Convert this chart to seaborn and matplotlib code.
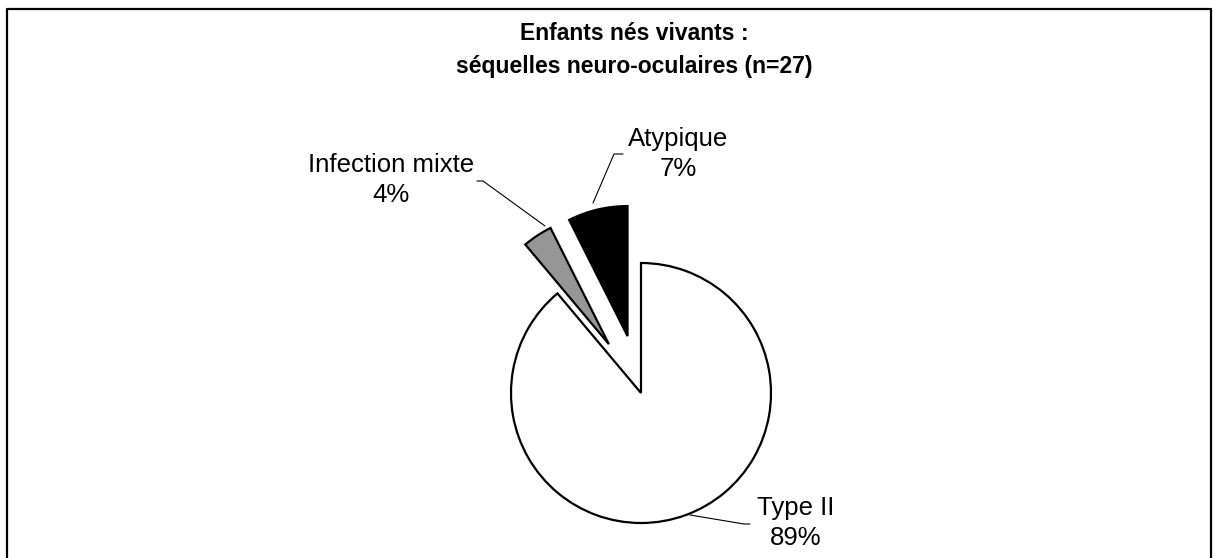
import matplotlib
matplotlib.use("Agg")
import matplotlib.pyplot as plt
import seaborn as sns

# Data
categories = ["Type II", "Infection mixte", "Atypique"]
counts = [24, 1, 2]
slice_colors = ["#FFFFFF", "#969696", "#000000"]
title_text = "Enfants nés vivants :\nséquelles neuro-oculaires (n=27)"

sns.set_theme(style="white")
plt.rcParams["font.family"] = ["Liberation Sans", "DejaVu Sans"]
plt.rcParams["text.color"] = "black"

W, H = 1213, 558
fig = plt.figure(figsize=(W / 100, H / 100), dpi=100)
ax = fig.add_axes([0, 0, 1, 1])

def Y(y):
    return H - y

total = sum(counts)
pcts = [round(100 * c / total) for c in counts]

R = 130
ax.pie(counts, colors=slice_colors, explode=[0, 0.45 * R, 0.45 * R], startangle=90,
       counterclock=False, center=(641, Y(393)), radius=R,
       wedgeprops=dict(edgecolor="black", linewidth=1.6, joinstyle="miter"))

ax.set_xlim(0, W)
ax.set_ylim(0, H)
ax.set_aspect("equal")
ax.axis("off")

# frame
ax.plot([7, 7, 1211, 1211], [Y(560), Y(9), Y(9), Y(560)], color="black", lw=1.6, clip_on=False)

# title
ax.text(634, Y(50), title_text, ha="center", va="center", fontsize=16.5,
        fontweight="bold", linespacing=1.5, color="black")

# labels
label_pos = {"Type II": (796, 523), "Infection mixte": (391, 180), "Atypique": (678, 154)}
for cat, p in zip(categories, pcts):
    x, y = label_pos[cat]
    ax.text(x, Y(y), f"{cat}\n{p}%", ha="center", va="center", fontsize=18.5,
            linespacing=1.3, color="black")

# leader lines
ax.plot([750, 744, 690], [Y(524), Y(524), Y(515)], color="black", lw=0.8)
ax.plot([477, 483, 545], [Y(181), Y(181), Y(226)], color="black", lw=0.8)
ax.plot([623, 614, 593], [Y(154), Y(154), Y(203)], color="black", lw=0.8)

fig.savefig("out.png", dpi=100)
